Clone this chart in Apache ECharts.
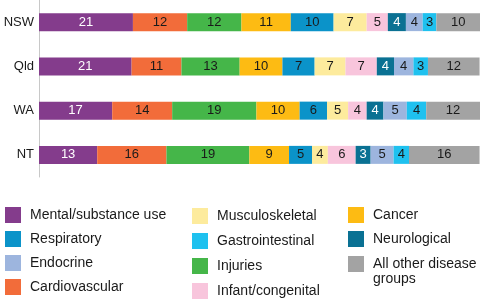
<!DOCTYPE html>
<html>
<head>
<meta charset="utf-8">
<script src="https://cdn.jsdelivr.net/npm/echarts@6/dist/echarts.min.js"></script>
<style>
  html, body { margin: 0; padding: 0; background: #fff; }
  #chart { width: 480px; height: 303px; }
</style>
</head>
<body>
<div id="chart"></div>
<script>
// states, top to bottom
var states = ['NSW', 'Qld', 'WA', 'NT'];

// disease groups in stacking order (left to right)
var groups = ['Mental/substance use', 'Cardiovascular', 'Injuries', 'Cancer', 'Respiratory',
    'Musculoskeletal', 'Infant/congenital', 'Neurological', 'Endocrine', 'Gastrointestinal',
    'All other disease groups'];

// printed shares (%) per state, same order as groups
var nswShare = [21, 12, 12, 11, 10, 7, 5, 4, 4, 3, 10];
var qldShare = [21, 11, 13, 10, 7, 7, 7, 4, 4, 3, 12];
var waShare  = [17, 14, 19, 10, 6, 5, 4, 4, 5, 4, 12];
var ntShare  = [13, 16, 19, 9, 5, 4, 6, 3, 5, 4, 16];

// unrounded shares
var nswWidth = [21.3, 12.3, 12.3, 11.2, 9.7, 7.5, 4.8, 4.1, 3.8, 3.1, 10.0];
var qldWidth = [21.0, 11.3, 13.2, 9.7, 7.3, 7.0, 7.1, 3.9, 4.4, 3.3, 11.7];
var waWidth  = [16.6, 13.6, 19.1, 9.8, 6.2, 4.8, 4.2, 3.8, 5.3, 4.4, 12.2];
var ntWidth  = [13.2, 15.7, 18.8, 9.0, 5.2, 3.6, 6.3, 3.4, 5.2, 3.5, 16.0];

var colors = ['#843c8c', '#f26c3a', '#45b649', '#fdbb13', '#0b93c9',
    '#fdeb9d', '#f8c5dc', '#0a7193', '#9db5de', '#1fc1ef', '#a3a3a3'];
var whiteText = ['Mental/substance use', 'Neurological'];

var shares = [nswShare, qldShare, waShare, ntShare];
var widths = [nswWidth, qldWidth, waWidth, ntWidth];

var chart = echarts.init(document.getElementById('chart'), null, {renderer: 'canvas'});

var series = [];
for (var g = 0; g < groups.length; g++) {
    var vals = [];
    for (var s = 0; s < states.length; s++) {
        vals.push(widths[s][g]);
    }
    (function (gi) {
        series.push({
            name: groups[gi],
            type: 'bar',
            stack: 'all',
            barWidth: 18,
            data: vals,
            itemStyle: {color: colors[gi]},
            label: {
                show: true,
                position: 'inside',
                fontFamily: 'Liberation Sans',
                fontSize: 13,
                color: whiteText.indexOf(groups[gi]) >= 0 ? '#ffffff' : '#1a1a1a',
                formatter: function (p) {
                    return shares[p.dataIndex][gi];
                }
            }
        });
    })(g);
}

var legendText = {fontFamily: 'Liberation Sans', fontSize: 14, color: '#1a1a1a', padding: [0, 0, 0, 4]};

var option = {
    animation: false,
    grid: {left: 39, right: 0, top: 0, height: 177},
    xAxis: {type: 'value', min: 0, max: 100, show: false},
    yAxis: {
        type: 'category',
        data: states,
        inverse: true,
        axisLine: {show: true, lineStyle: {color: '#c8c8c8', width: 1}},
        axisTick: {show: false},
        axisLabel: {fontFamily: 'Liberation Sans', fontSize: 13, color: '#1a1a1a', margin: 5}
    },
    legend: [
        {
            left: 5, top: 207, padding: 0, orient: 'vertical', itemWidth: 16, itemHeight: 16, itemGap: 8,
            icon: 'rect', selectedMode: false, textStyle: legendText,
            data: ['Mental/substance use', 'Respiratory', 'Endocrine', 'Cardiovascular']
        },
        {
            left: 192, top: 208, padding: 0, orient: 'vertical', itemWidth: 16, itemHeight: 16, itemGap: 9,
            icon: 'rect', selectedMode: false, textStyle: legendText,
            data: ['Musculoskeletal', 'Gastrointestinal', 'Injuries', 'Infant/congenital']
        },
        {
            left: 348, top: 207, padding: 0, orient: 'vertical', itemWidth: 16, itemHeight: 16, itemGap: 8,
            icon: 'rect', selectedMode: false, textStyle: legendText,
            data: ['Cancer', 'Neurological']
        },
        {
            // two-line label, first line level with the swatch (blank line on top)
            left: 348, top: 241.5, height: 80, padding: 0, itemWidth: 16, itemHeight: 16,
            icon: 'rect', selectedMode: false,
            textStyle: {fontFamily: 'Liberation Sans', fontSize: 14, color: '#1a1a1a',
                padding: [0, 0, 0, 4], lineHeight: 15},
            data: ['All other disease groups'],
            formatter: function () {
                return ' \nAll other disease\ngroups';
            }
        }
    ],
    series: series
};

chart.setOption(option);
</script>
</body>
</html>
